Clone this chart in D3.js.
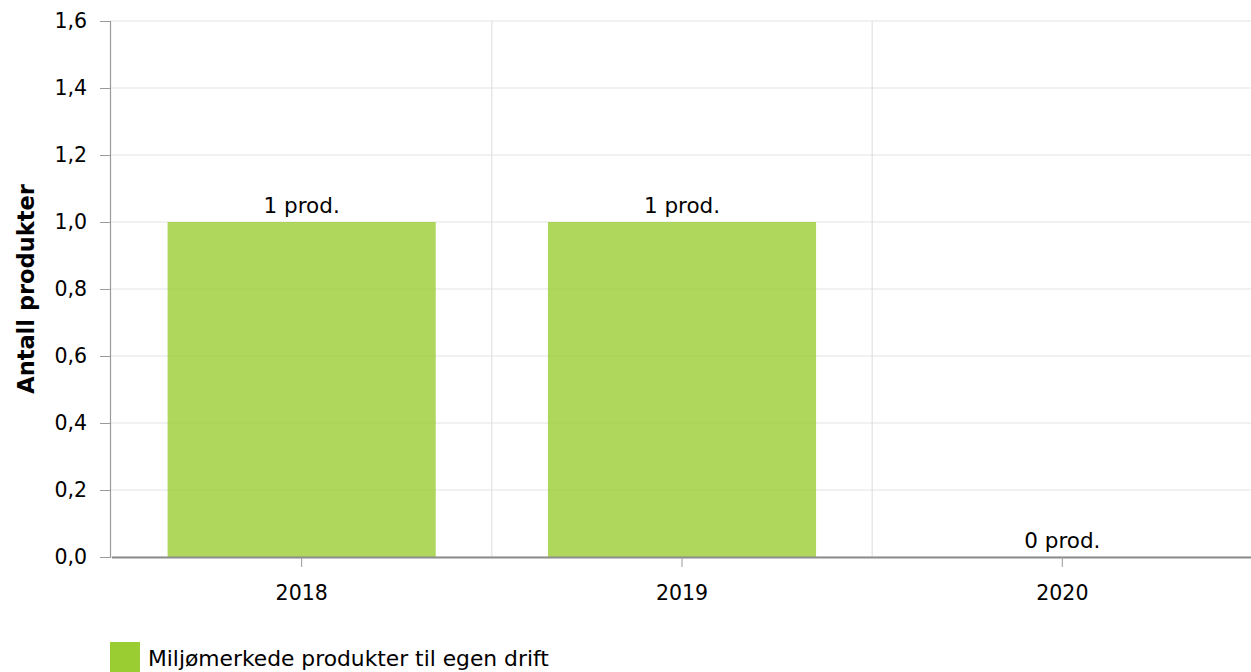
<!DOCTYPE html>
<html>
<head>
<meta charset="utf-8">
<script src="https://cdn.jsdelivr.net/npm/d3@7"></script>
<style>
  body { margin: 0; background: #fff; }
  svg { display: block; font-family: "DejaVu Sans", Verdana, sans-serif; }
</style>
</head>
<body>
<div id="chart"></div>
<script>
// data
var years = ["2018", "2019", "2020"];
var products = [1, 1, 0];
var yTicks = [0, 0.2, 0.4, 0.6, 0.8, 1.0, 1.2, 1.4, 1.6];
var seriesName = "Miljømerkede produkter til egen drift";
var yTitle = "Antall produkter";

var width = 1251, height = 672;
var margin = { top: 21, right: 0, bottom: 115, left: 110 };
var plotW = width - margin.left - margin.right;
var plotH = height - margin.top - margin.bottom;
var barColor = "yellowgreen";
var tickFont = 20.5; // axis numbers
var labelFont = 21.5; // value labels + legend

var svg = d3.select("#chart").append("svg")
    .attr("width", width)
    .attr("height", height);

var g = svg.append("g")
    .attr("transform", "translate(" + margin.left + "," + margin.top + ")");

// scales
var x = d3.scaleBand().domain(years).range([1.5, plotW + 1.5]);
var y = d3.scaleLinear().domain([0, 1.6]).range([plotH, 0]);
var barW = x.bandwidth() * 0.705;

var fmt = function (d) { return d3.format(".1f")(d).replace(".", ","); };

// horizontal grid
g.append("g").selectAll("line").data(yTicks).enter().append("line")
    .attr("x1", 0).attr("x2", plotW)
    .attr("y1", function (d) { return y(d); })
    .attr("y2", function (d) { return y(d); })
    .attr("stroke", "#e3e3e3");

// vertical grid (category boundaries)
g.append("g").selectAll("line").data(years.slice(1)).enter().append("line")
    .attr("x1", function (d) { return x(d); })
    .attr("x2", function (d) { return x(d); })
    .attr("y1", 0).attr("y2", plotH)
    .attr("stroke", "#dcdcdc");

// bars
g.append("g").selectAll("rect").data(years).enter().append("rect")
    .attr("x", function (d) { return x(d) + (x.bandwidth() - barW) / 2; })
    .attr("y", function (d, i) { return y(products[i]); })
    .attr("width", barW)
    .attr("height", function (d, i) { return plotH - y(products[i]); })
    .attr("fill", barColor)
    .attr("fill-opacity", 0.8);

// value labels
g.append("g").selectAll("text").data(years).enter().append("text")
    .attr("x", function (d) { return x(d) + x.bandwidth() / 2; })
    .attr("y", function (d, i) { return y(products[i]) - 9; })
    .attr("text-anchor", "middle")
    .style("font-size", labelFont + "px")
    .attr("fill", "#000")
    .text(function (d, i) { return products[i] + " prod."; });

// y axis
var yAxis = g.append("g")
    .call(d3.axisLeft(y).tickValues(yTicks).tickFormat(fmt).tickSize(10).tickPadding(13));
yAxis.attr("font-size", null).attr("font-family", null);
yAxis.select(".domain").attr("stroke", "#9a9a9a").attr("stroke-width", 1.2);
yAxis.selectAll(".tick line").attr("stroke", "#9a9a9a");
yAxis.selectAll("text").style("font-size", tickFont + "px").attr("fill", "#000");

// x axis
var xAxis = g.append("g")
    .attr("transform", "translate(0," + plotH + ")")
    .call(d3.axisBottom(x).tickSize(10).tickSizeOuter(0).tickPadding(18));
xAxis.attr("font-size", null).attr("font-family", null);
xAxis.select(".domain").attr("stroke", "#8c8c8c").attr("stroke-width", 2);
xAxis.selectAll(".tick line").attr("stroke", "#9a9a9a");
xAxis.selectAll("text").style("font-size", tickFont + "px").attr("fill", "#000");

// y title
svg.append("text")
    .attr("transform", "translate(33.5," + (margin.top + plotH / 2) + ") rotate(-90)")
    .attr("text-anchor", "middle")
    .style("font-size", "22.5px")
    .attr("font-weight", "bold")
    .text(yTitle);

// legend
var legend = svg.append("g").attr("transform", "translate(110,642)");
legend.append("rect")
    .attr("width", 30).attr("height", 30)
    .attr("fill", barColor);
legend.append("text")
    .attr("x", 38).attr("y", 24)
    .style("font-size", "21.8px")
    .text(seriesName);
</script>
</body>
</html>
